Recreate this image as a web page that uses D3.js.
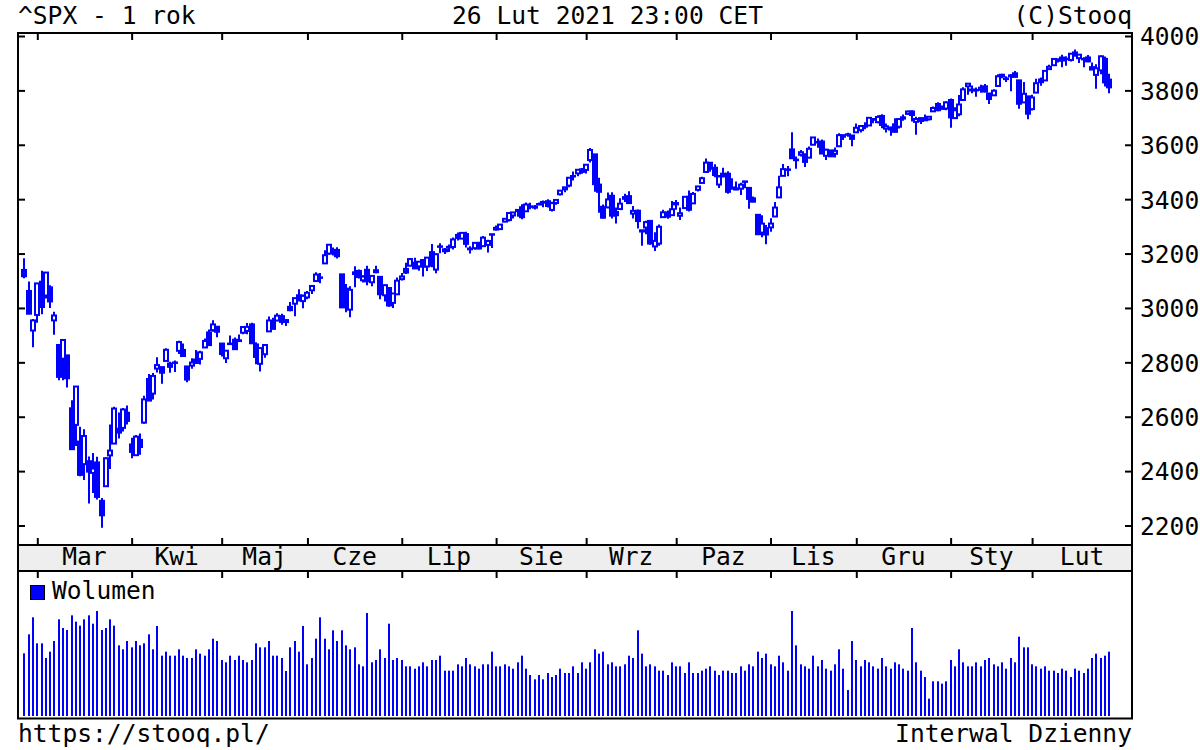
<!DOCTYPE html>
<html><head><meta charset="utf-8">
<script src="https://cdn.jsdelivr.net/npm/d3@7"></script>
<style>html,body{margin:0;padding:0;background:#fff;} svg{display:block;} text{font-family:"DejaVu Sans Mono",monospace;}</style>
</head><body><svg id="c" width="1200" height="750"></svg>
<script>
// ---- data: ^SPX daily, 26 Feb 2020 .. 26 Feb 2021 ----
const open = [
3139.90,3062.54,2916.90,
2974.28,3096.46,3045.75,3075.70,2954.20,2863.89,2813.48,2825.60,2630.86,2569.99,2508.59,2425.66,2436.50,2393.48,2431.94,2290.71,2344.44,2457.77,2501.29,2555.87,2558.98,2614.69,
2498.08,2458.54,2514.92,2578.28,2738.65,2685.00,2776.99,2782.46,2805.10,2795.64,2799.34,2842.43,2845.62,2784.81,2787.89,2810.42,2812.64,2854.65,2909.96,2918.46,2930.91,
2869.09,2815.01,2868.88,2883.14,2878.26,2908.83,2915.46,2939.50,2865.86,2794.54,2829.95,2913.86,2948.59,2953.63,2969.95,2948.05,3004.08,3015.65,3046.61,3025.17,
3038.78,3064.78,3098.90,3111.56,3163.84,3199.92,3213.32,3213.42,3123.53,3071.04,2993.76,3131.00,3136.13,3101.64,3140.29,3094.42,3138.70,3114.40,3046.60,3073.20,3018.59,3050.20,
3105.92,3143.64,3155.29,3166.44,3153.07,3176.17,3152.47,3205.08,3141.11,3225.98,3208.36,3224.21,3224.29,3268.52,3254.86,3271.64,3218.58,3219.84,3234.27,3227.22,3231.76,3270.45,
3288.26,3289.92,3317.37,3323.17,3340.05,3356.04,3370.34,3355.46,3372.95,3368.66,3380.86,3387.04,3392.51,3360.48,3386.01,3418.09,3435.95,3449.97,3485.14,3494.69,3509.73,
3507.44,3543.76,3564.74,3453.60,3371.88,3369.82,3412.56,3352.70,3363.56,3407.73,3411.23,3346.86,3357.38,3285.57,3295.75,3320.11,3226.14,3236.66,3333.90,3350.92,3341.21,
3385.87,3338.94,3367.27,3408.74,3384.56,3434.28,3459.67,3500.02,3534.01,3515.47,3453.72,3493.50,3493.66,3439.38,3439.91,3438.50,3464.90,3441.42,3403.15,3342.48,3277.17,3293.59,
3296.20,3336.25,3406.46,3485.74,3508.34,3583.04,3543.26,3563.22,3562.67,3552.57,3600.16,3610.31,3612.09,3559.41,3579.31,3566.82,3594.52,3635.50,3638.55,3634.18,
3645.87,3653.78,3668.28,3670.94,3694.73,3683.05,3705.98,3659.13,3656.08,3675.27,3666.41,3696.25,3713.65,3722.39,3684.28,3698.08,3693.42,3694.03,3723.03,3750.01,3736.19,3733.27,
3764.61,3698.02,3712.20,3764.71,3815.05,3803.14,3801.62,3802.23,3814.98,3788.73,3781.88,3816.22,3857.46,3844.24,3851.68,3862.96,3836.83,3755.75,3778.05,
3731.17,3791.84,3840.27,3836.66,3878.30,3892.59,3910.49,3920.78,3916.40,3911.65,3939.61,3918.50,3915.86,3921.16,3885.55,3857.07,3873.71,3915.80,3839.66
];
const high = [
3182.51,3097.07,2959.72,
3090.96,3136.72,3130.97,3083.04,2985.93,2863.89,2882.59,2825.60,2660.95,2711.33,2562.98,2553.93,2453.57,2466.97,2453.01,2300.73,2449.71,2571.42,2637.01,2615.91,2631.80,2641.39,
2522.75,2533.22,2538.18,2676.85,2756.89,2760.75,2818.57,2782.46,2851.85,2801.88,2806.51,2879.22,2868.98,2785.54,2815.10,2844.90,2842.71,2887.72,2921.15,2954.86,2930.91,
2869.09,2844.24,2898.23,2891.11,2901.92,2932.16,2944.25,2945.82,2874.14,2852.80,2865.01,2968.09,2964.21,2980.29,2978.50,2956.76,3021.72,3036.25,3068.67,3049.17,
3062.18,3081.07,3130.94,3128.91,3211.72,3233.13,3222.71,3223.27,3123.53,3088.42,3079.76,3153.45,3141.16,3120.00,3155.53,3120.92,3154.90,3115.01,3086.25,3073.73,3053.89,3111.51,
3128.44,3165.81,3182.59,3184.15,3171.80,3179.78,3186.82,3235.32,3200.95,3238.28,3220.39,3233.52,3258.61,3277.29,3279.32,3279.99,3227.26,3241.43,3243.72,3264.74,3250.92,3272.17,
3302.73,3306.84,3330.77,3351.03,3352.54,3363.29,3381.01,3387.89,3387.24,3378.51,3387.59,3395.06,3399.54,3390.80,3399.96,3432.09,3444.21,3481.07,3501.38,3509.23,3514.77,
3528.03,3588.11,3564.85,3479.15,3379.97,3424.77,3425.55,3368.95,3402.93,3419.48,3428.92,3375.17,3362.27,3285.57,3320.31,3323.35,3278.70,3306.88,3360.74,3357.92,3393.56,
3397.18,3369.10,3409.57,3431.56,3426.26,3447.28,3482.34,3549.85,3534.01,3527.94,3489.08,3515.76,3502.42,3476.93,3464.86,3460.53,3466.46,3441.42,3409.51,3342.48,3341.05,3304.93,
3330.14,3389.49,3486.25,3529.05,3521.58,3645.99,3557.22,3581.16,3569.02,3593.66,3628.51,3623.11,3619.09,3585.22,3581.23,3589.81,3642.31,3635.50,3644.31,3634.18,
3678.45,3670.96,3682.73,3699.20,3697.41,3708.45,3712.39,3678.49,3665.91,3697.61,3695.29,3711.27,3725.12,3726.70,3702.90,3698.26,3711.24,3703.82,3740.51,3756.12,3744.63,3760.20,
3769.99,3737.83,3783.04,3811.55,3826.69,3817.86,3810.78,3820.96,3823.60,3788.73,3804.53,3859.75,3861.45,3852.31,3859.23,3870.90,3836.83,3830.50,3778.05,
3784.32,3843.09,3847.51,3872.42,3894.56,3915.77,3918.35,3931.50,3925.99,3937.23,3950.43,3933.61,3921.98,3930.41,3902.92,3895.98,3928.65,3925.02,3861.08
];
const low = [
3108.99,2977.39,2855.84,
2945.19,2976.63,3034.38,2999.83,2901.54,2734.43,2734.00,2707.22,2478.86,2492.37,2380.94,2367.04,2280.52,2319.78,2295.56,2191.86,2344.44,2407.53,2500.72,2520.02,2545.28,2571.15,
2447.49,2455.79,2459.96,2574.57,2657.67,2663.30,2762.36,2721.17,2805.10,2761.54,2764.32,2830.88,2820.43,2727.10,2775.95,2794.26,2791.76,2852.89,2860.71,2912.16,2892.47,
2821.61,2797.85,2863.55,2847.65,2876.48,2902.88,2903.44,2869.59,2793.15,2766.64,2816.78,2913.86,2922.35,2953.63,2938.57,2933.59,2988.17,2969.75,3023.40,2998.61,
3031.54,3051.64,3098.90,3090.41,3163.84,3196.00,3193.11,3181.49,2999.49,2984.47,2965.66,3076.06,3108.03,3093.51,3083.11,3079.39,3127.12,3032.13,3024.01,3004.63,2999.74,3047.83,
3101.17,3124.52,3155.29,3142.93,3136.53,3115.70,3136.22,3149.43,3127.66,3200.76,3198.59,3205.65,3215.16,3247.77,3253.10,3222.66,3200.05,3214.25,3216.17,3227.22,3204.13,3220.26,
3284.53,3286.37,3317.37,3318.14,3328.72,3335.44,3326.44,3355.46,3363.35,3361.64,3379.22,3370.15,3369.66,3354.69,3379.31,3413.13,3425.84,3444.15,3468.35,3484.32,3493.25,
3494.60,3535.23,3427.41,3349.63,3329.27,3366.84,3329.25,3310.47,3363.56,3389.25,3384.45,3328.82,3292.40,3229.10,3270.95,3232.57,3209.45,3228.44,3332.91,3327.54,3340.47,
3361.39,3323.69,3367.27,3354.54,3384.56,3428.15,3458.07,3499.61,3500.86,3480.55,3440.89,3480.45,3419.93,3435.65,3433.06,3415.34,3440.45,3364.86,3388.71,3268.89,3259.82,3233.94,
3279.74,3336.25,3405.17,3485.74,3484.34,3547.48,3511.91,3557.00,3518.58,3552.57,3600.16,3588.68,3567.33,3543.84,3556.85,3552.77,3594.52,3617.76,3629.33,3594.39,
3645.87,3644.84,3657.17,3670.94,3678.88,3678.83,3660.54,3645.18,3633.40,3645.84,3659.62,3688.57,3710.87,3685.84,3636.48,3676.16,3689.28,3689.32,3723.03,3723.31,3730.21,3726.88,
3662.71,3695.07,3705.34,3764.71,3783.60,3789.02,3776.51,3791.50,3792.86,3749.62,3780.37,3816.22,3845.05,3830.41,3797.16,3847.78,3732.48,3755.75,3694.12,
3725.62,3791.84,3816.68,3836.66,3874.93,3892.59,3902.64,3884.94,3890.39,3905.78,3923.85,3900.43,3885.03,3903.07,3874.71,3805.59,3859.60,3814.04,3789.54
];
const close = [
3116.39,2978.76,2954.22,
3090.23,3003.37,3130.12,3023.94,2972.37,2746.56,2882.23,2741.38,2480.64,2711.02,2386.13,2529.19,2398.10,2409.39,2304.92,2237.40,2447.33,2475.56,2630.07,2541.47,2626.65,2584.59,
2470.50,2526.90,2488.65,2663.68,2659.41,2749.98,2789.82,2761.63,2846.06,2783.36,2799.55,2874.56,2823.16,2736.56,2799.31,2797.80,2836.74,2878.48,2863.39,2939.51,2912.43,
2830.71,2842.74,2868.44,2848.42,2881.19,2929.80,2930.32,2870.12,2820.00,2852.50,2863.70,2953.91,2922.94,2971.61,2948.51,2955.45,2991.77,3036.13,3029.73,3044.31,
3055.73,3080.82,3122.87,3112.35,3193.93,3232.39,3207.18,3190.14,3002.10,3041.31,3066.59,3124.74,3113.49,3115.34,3097.74,3117.86,3131.29,3050.33,3083.76,3009.05,3053.24,3100.29,
3115.86,3130.01,3179.72,3145.32,3169.94,3152.05,3185.04,3155.22,3197.52,3226.56,3215.57,3224.73,3251.84,3257.30,3276.02,3235.66,3215.63,3239.41,3218.44,3258.44,3246.22,3271.12,
3294.61,3306.51,3327.77,3349.16,3351.28,3360.47,3333.69,3380.35,3373.43,3372.85,3381.99,3389.78,3374.85,3385.51,3397.16,3431.28,3443.62,3478.73,3484.55,3508.01,3500.31,
3526.65,3580.84,3455.06,3426.96,3331.84,3398.96,3339.19,3340.97,3383.54,3401.20,3385.49,3357.01,3319.47,3281.06,3315.57,3236.92,3246.59,3298.46,3351.60,3335.47,3363.00,
3380.80,3348.42,3408.60,3360.97,3419.44,3446.83,3477.14,3534.22,3511.93,3488.67,3483.34,3483.81,3426.92,3443.12,3435.56,3453.49,3465.39,3400.97,3390.68,3271.03,3310.11,3269.96,
3310.24,3369.16,3443.44,3510.45,3509.44,3550.50,3545.53,3572.66,3537.01,3585.15,3626.91,3609.53,3567.79,3581.87,3557.54,3577.59,3635.41,3629.65,3638.35,3621.63,
3662.45,3669.01,3666.72,3699.12,3691.96,3702.25,3672.82,3668.10,3663.46,3647.49,3694.62,3701.17,3722.48,3709.41,3694.92,3687.26,3690.01,3703.06,3735.36,3727.04,3732.04,3756.07,
3700.65,3726.86,3748.14,3803.79,3824.68,3799.61,3801.19,3809.84,3795.54,3768.25,3798.91,3851.85,3853.07,3841.47,3855.36,3849.62,3750.77,3787.38,3714.24,
3773.86,3826.31,3830.17,3871.74,3886.83,3915.59,3911.23,3909.88,3916.38,3934.83,3932.59,3931.33,3913.97,3906.71,3876.50,3881.37,3925.43,3829.34,3811.15
];
const volume = [
3760,4900,5920,4360,4360,3480,3860,4500,5800,5280,
5160,6040,5660,5420,5800,6040,5540,6300,5160,5280,
5800,5420,4240,4000,4500,4120,4500,4240,4360,4900,
4000,5400,3620,3860,3620,3620,4000,3620,3480,3480,
4000,3740,3620,4000,4640,4500,3360,3220,3620,3360,
3620,3360,3220,3360,4360,4120,4120,4500,3620,3620,
3480,2700,4120,4500,3860,5400,3100,3480,4640,5920,
4640,4000,5140,4500,5140,4240,4000,4120,3100,2980,
6180,3220,3360,4000,3480,5540,3360,3480,
3360,2980,2980,2840,2980,3220,2980,3360,3360,3620,
2720,2720,2720,3100,2980,3480,3100,2980,2840,3100,
3100,3860,2980,2980,3100,2980,2840,3220,3620,2840,
2460,2200,2460,2200,2580,2340,2460,2840,2580,2580,
2980,2580,3220,2840,3220,4000,3740,3860,3100,3220,
2980,2980,3100,3620,3480,5140,3740,2980,3100,2980,
2720,2720,2460,3220,2980,2980,2580,3220,2580,2580,
2720,2840,2980,2720,2460,2720,2720,2580,2580,2980,
2720,3100,2980,3860,3480,3740,3100,2980,3620,3220,
2720,6300,4240,
3100,2980,2840,3620,2980,3360,2840,2720,3100,4000,
2840,1560,4500,3360,2980,3360,3220,2980,2840,3480,
2980,2840,3220,3100,2840,2720,5280,3220,2720,2340,
1040,2080,2080,1940,2080,3360,2980,4000,3220,2980,
2980,3220,2980,3360,3480,3100,2980,3220,2840,3480,
3220,4760,4120,4120,3100,2980,2840,2980,2720,2720,
2580,2840,2720,2340,2840,2720,2580,2840,3480,3740,
3480,3620,3860
];
const monthLabels = ["Mar","Kwi","Maj","Cze","Lip","Sie","Wrz","Paz","Lis","Gru","Sty","Lut"];
const monthStart = [3,25,46,66,88,110,131,152,174,194,216,235];
const priceTicks = [2200,2400,2600,2800,3000,3200,3400,3600,3800,4000];

// ---- layout ----
const L=18,R=1132,T=33,PB=545,BB=571,VB=718.5;
const FS=24.6;
const blue="#0000ff";
const svg=d3.select("#c");
const x=d3.scaleLinear().domain([-1.5,258.3]).range([L,R]);
const y=d3.scaleLinear().domain([2200,4000]).range([525.5,36]);
const yv=d3.scaleLinear().domain([0,8700]).range([716,571]);
const cx=i=>Math.round(x(i));

// band
svg.append("rect").attr("x",L).attr("y",PB).attr("width",R-L).attr("height",BB-PB).attr("fill","#eeeeee");

const n=Math.min(open.length,high.length,low.length,close.length,volume.length);
const data=d3.range(n).map(i=>({i,o:open[i],h:high[i],l:low[i],c:close[i],v:volume[i]}));

// volume bars
svg.append("g").selectAll("rect").data(data).join("rect")
  .attr("x",d=>cx(d.i)-1).attr("width",2)
  .attr("y",d=>yv(d.v)).attr("height",d=>yv(0)-yv(d.v))
  .attr("fill",blue);

// candles
const g=svg.append("g");
g.selectAll("line").data(data).join("line")
  .attr("x1",d=>cx(d.i)).attr("x2",d=>cx(d.i))
  .attr("y1",d=>y(d.h)).attr("y2",d=>y(d.l))
  .attr("stroke",blue).attr("stroke-width",2);
g.selectAll("rect").data(data).join("rect")
  .attr("x",d=>cx(d.i)-2).attr("width",4)
  .attr("y",d=>y(Math.max(d.o,d.c)))
  .attr("height",d=>Math.max(0.5,Math.abs(y(d.o)-y(d.c))))
  .attr("fill",d=>d.c>=d.o?"#ffffff":blue)
  .attr("stroke",blue).attr("stroke-width",2);

// axes
function styleAxis(sel){
  sel.select(".domain").remove();
  sel.selectAll(".tick line").attr("stroke","#000").attr("stroke-width",2);
  sel.selectAll(".tick text").attr("font-family","DejaVu Sans Mono").attr("font-size",FS).attr("fill","#000");
}
svg.append("g").attr("transform",`translate(${L},0)`)
  .call(d3.axisLeft(y).tickValues(priceTicks).tickSize(-7).tickFormat(""))
  .call(styleAxis);
svg.append("g").attr("transform",`translate(${R},0)`)
  .call(d3.axisRight(y).tickValues(priceTicks).tickSize(-7).tickPadding(8).tickFormat(d3.format("d")))
  .call(styleAxis)
  .selectAll(".tick text").attr("dy","0.36em");
svg.append("g").attr("transform",`translate(0,${T})`)
  .call(d3.axisBottom(x).tickValues(monthStart).tickSize(7).tickFormat(""))
  .call(styleAxis);
svg.append("g").attr("transform",`translate(0,${PB})`)
  .call(d3.axisTop(x).tickValues(monthStart).tickSize(7).tickFormat(""))
  .call(styleAxis);
svg.append("g").attr("transform",`translate(0,${BB})`)
  .call(d3.axisBottom(x).tickValues(monthStart).tickSize(7).tickFormat(""))
  .call(styleAxis);

// month labels
const mpos=monthStart.map((s,k)=>{
  const a=x(s), b=k<monthStart.length-1?x(monthStart[k+1]):R;
  return {t:monthLabels[k],cx:(a+b)/2};
});
svg.append("g").selectAll("text").data(mpos).join("text")
  .attr("x",d=>d.cx).attr("y",565).attr("text-anchor","middle")
  .attr("font-size",FS).attr("fill","#000").text(d=>d.t);

// frame
svg.append("rect").attr("x",L).attr("y",T).attr("width",R-L).attr("height",VB-T)
  .attr("fill","none").attr("stroke","#000").attr("stroke-width",2);
svg.append("line").attr("x1",L).attr("x2",R).attr("y1",PB).attr("y2",PB).attr("stroke","#000").attr("stroke-width",2);
svg.append("line").attr("x1",L).attr("x2",R).attr("y1",BB).attr("y2",BB).attr("stroke","#000").attr("stroke-width",2);

// legend
svg.append("rect").attr("x",30.5).attr("y",585.5).attr("width",14).attr("height",14)
  .attr("fill",blue).attr("stroke","#000").attr("stroke-width",1);
svg.append("text").attr("x",52).attr("y",598.5).attr("font-size",FS).text("Wolumen");

// header / footer
svg.append("text").attr("x",L).attr("y",24).attr("font-size",FS).text("^SPX - 1 rok");
svg.append("text").attr("x",452).attr("y",24).attr("font-size",FS).text("26 Lut 2021 23:00 CET");
svg.append("text").attr("x",R).attr("y",24).attr("text-anchor","end").attr("font-size",FS).text("(C)Stooq");
svg.append("text").attr("x",L).attr("y",742).attr("font-size",FS).text("https://stooq.pl/");
svg.append("text").attr("x",R).attr("y",742).attr("text-anchor","end").attr("font-size",FS).text("Interwal Dzienny");
</script>
</body></html>
